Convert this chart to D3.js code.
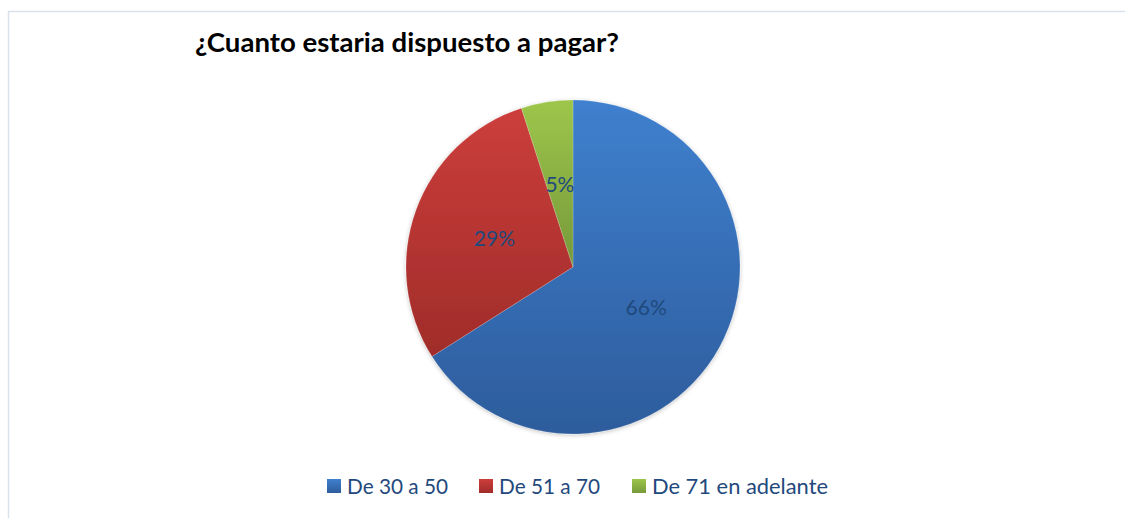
<!DOCTYPE html>
<html>
<head>
<meta charset="utf-8">
<script src="https://cdn.jsdelivr.net/npm/d3@7"></script>
<style>
  body { margin: 0; background: #fff; }
  svg { display: block; font-family: Lato, "Open Sans", sans-serif; }
</style>
</head>
<body>
<svg id="chart" width="1125" height="518"></svg>
<script>
// datos del grafico
var categorias = ["De 30 a 50", "De 51 a 70", "De 71 en adelante"];
var valores = [66, 29, 5];
var etiquetas = ["66%", "29%", "5%"];
var titulo = "¿Cuanto estaria dispuesto a pagar?";

var colTop = ["#3f80ce", "#cc3e3b", "#9dc64b"];
var colBot = ["#2d5c9c", "#a02c2a", "#76993a"];

var svg = d3.select("#chart");
var defs = svg.append("defs");

// marco del grafico
svg.append("path")
   .attr("d", "M8.5,518 L8.5,11.5 L1125,11.5")
   .style("fill", "none")
   .style("stroke", "#d9e1ec")
   .style("stroke-width", 1.5);

// degradados
colTop.forEach(function(c, i) {
  var g = defs.append("linearGradient")
              .attr("id", "grad" + i)
              .attr("x1", 0).attr("y1", 0).attr("x2", 0).attr("y2", 1);
  g.append("stop").attr("offset", "0%").attr("stop-color", c);
  g.append("stop").attr("offset", "100%").attr("stop-color", colBot[i]);
});

var sombra = defs.append("filter").attr("id", "sombra")
                 .attr("x", "-10%").attr("y", "-10%").attr("width", "120%").attr("height", "120%");
sombra.append("feDropShadow").attr("dx", 0).attr("dy", 1).attr("stdDeviation", 2)
      .attr("flood-color", "#000").attr("flood-opacity", 0.25);

// titulo
svg.append("text")
   .attr("x", 195).attr("y", 52)
   .attr("textLength", 424)
   .attr("lengthAdjust", "spacingAndGlyphs")
   .style("font-size", "27px")
   .style("font-weight", "bold")
   .style("fill", "#000")
   .text(titulo);

// pastel
var cx = 573, cy = 267, radio = 167;
var pie = d3.pie().sort(null).value(function(d) { return d; });
var arc = d3.arc().innerRadius(0).outerRadius(radio);
var arcos = pie(valores);

var g = svg.append("g").attr("transform", "translate(" + cx + "," + cy + ")");
g.append("g").attr("filter", "url(#sombra)")
 .selectAll("path")
 .data(arcos)
 .enter().append("path")
 .attr("d", arc)
 .style("fill", function(d, i) { return "url(#grad" + i + ")"; })
 .style("stroke", "rgba(255,255,255,0.35)")
 .style("stroke-width", 0.5);

g.selectAll("text.lbl")
 .data(arcos)
 .enter().append("text")
 .attr("class", "lbl")
 .attr("transform", function(d) { return "translate(" + arc.centroid(d) + ")"; })
 .attr("text-anchor", "middle")
 .attr("dy", "0.35em")
 .style("font-size", "21px")
 .style("fill", "#1f497d")
 .text(function(d, i) { return etiquetas[i]; });

// leyenda
var legX = [327, 479, 632];
var legW = [101, 101, 176];
var leg = svg.selectAll("g.leg")
             .data(categorias)
             .enter().append("g")
             .attr("class", "leg")
             .attr("transform", function(d, i) { return "translate(" + legX[i] + ",479)"; });
leg.append("rect")
   .attr("width", 14).attr("height", 14)
   .style("fill", function(d, i) { return "url(#grad" + i + ")"; });
leg.append("text")
   .attr("x", 20).attr("y", 15)
   .attr("textLength", function(d, i) { return legW[i]; })
   .attr("lengthAdjust", "spacingAndGlyphs")
   .style("font-size", "21px")
   .style("fill", "#1f497d")
   .text(function(d) { return d; });
</script>
</body>
</html>
